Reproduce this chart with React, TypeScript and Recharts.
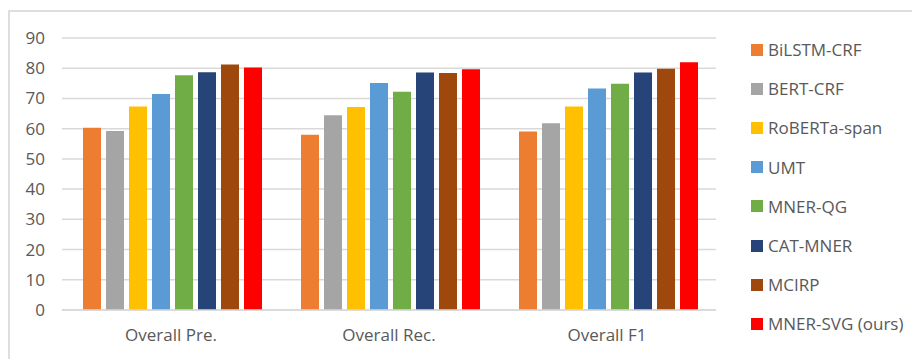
import React from 'react';
import { BarChart, Bar, XAxis, YAxis, CartesianGrid, Legend } from 'recharts';

const categories = ['Overall Pre.', 'Overall Rec.', 'Overall F1'];
const models = ['BiLSTM-CRF', 'BERT-CRF', 'RoBERTa-span', 'UMT', 'MNER-QG', 'CAT-MNER', 'MCIRP', 'MNER-SVG (ours)'];
const colors = ['#ED7D31', '#A5A5A5', '#FFC000', '#5B9BD5', '#70AD47', '#264478', '#9E480E', '#FF0000'];

const bilstmCrf = [60.3, 58.0, 59.1];
const bertCrf = [59.2, 64.4, 61.8];
const robertaSpan = [67.3, 67.2, 67.3];
const umt = [71.5, 75.1, 73.3];
const mnerQg = [77.7, 72.2, 74.9];
const catMner = [78.7, 78.6, 78.6];
const mcirp = [81.2, 78.4, 79.8];
const mnerSvg = [80.2, 79.7, 82.0];

const yTicks = [0, 10, 20, 30, 40, 50, 60, 70, 80, 90];

const seriesValues = [bilstmCrf, bertCrf, robertaSpan, umt, mnerQg, catMner, mcirp, mnerSvg];

const data = categories.map((name, i) => {
    const row: any = { name };
    models.forEach((m, j) => { row[m] = seriesValues[j][i]; });
    return row;
});

const FONT = '"Open Sans", sans-serif';
const TEXT = '#595959';

// keep legend in series order (recharts sorts by name otherwise)
const renderLegend = (props: any) => {
    const items = [...(props.payload || [])].sort((a: any, b: any) => models.indexOf(a.value) - models.indexOf(b.value));
    return (
        <div style={{ fontFamily: FONT, fontSize: 17, color: TEXT }}>
            {items.map((entry: any) => (
                <div key={entry.value} style={{ height: 39.2, display: 'flex', alignItems: 'center' }}>
                    <span style={{ width: 12, height: 12, background: entry.color, display: 'inline-block', marginRight: 5 }} />
                    <span style={{ whiteSpace: 'nowrap' }}>{entry.value}</span>
                </div>
            ))}
        </div>
    );
};

const App: React.FC = () => {
    return (
        <div style={{ position: 'relative', width: 912, height: 351 }}>
            <div style={{ position: 'absolute', left: 0, top: 2, right: -8, bottom: -20, borderTop: '2px solid #dedede', borderLeft: '2px solid #dedede' }} />
            <div style={{ position: 'absolute', left: 0, top: 0 }}>
                <BarChart width={904} height={343} data={data} margin={{ top: 30, right: 196, bottom: 11, left: 0 }}
                    barCategoryGap={21} barGap={5}>
                    <CartesianGrid vertical={false} stroke="#d9d9d9" strokeWidth={1.5} />
                    <XAxis dataKey="name" height={30} tickLine={false} tickSize={0} tickMargin={19}
                        axisLine={{ stroke: '#d9d9d9', strokeWidth: 1.5 }}
                        tick={{ fill: TEXT, fontSize: 17, fontFamily: FONT }} />
                    <YAxis width={54} domain={[0, 90]} ticks={yTicks} axisLine={false} tickLine={false}
                        tickSize={0} tickMargin={17} interval={0}
                        tick={{ fill: TEXT, fontSize: 17, fontFamily: FONT }} />
                    <Legend layout="vertical" align="center" verticalAlign="middle" content={renderLegend}
                        wrapperStyle={{ left: 743, top: 22, width: 165 }} />
                    {models.map((m, i) => (
                        <Bar key={m} dataKey={m} fill={colors[i]} isAnimationActive={false} />
                    ))}
                </BarChart>
            </div>
        </div>
    );
};

export default App;
